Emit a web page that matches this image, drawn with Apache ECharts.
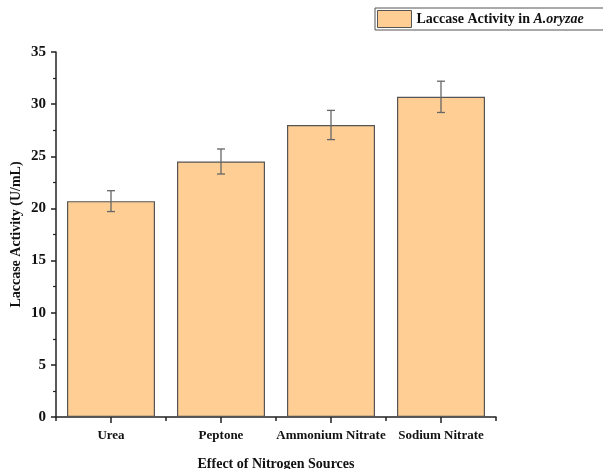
<!DOCTYPE html>
<html>
<head>
<meta charset="utf-8">
<script src="https://cdn.jsdelivr.net/npm/echarts@6/dist/echarts.min.js"></script>
<style>
  html, body { margin: 0; padding: 0; background: #fff; }
  #chart { width: 603px; height: 469px; }
</style>
</head>
<body>
<div id="chart"></div>
<script>
// Laccase activity of A. oryzae under different nitrogen sources
const categories = ['Urea', 'Peptone', 'Ammonium Nitrate', 'Sodium Nitrate'];
const activity = [20.7, 24.5, 28.0, 30.7];
const errors = [1.0, 1.2, 1.4, 1.5];
const yTicks = [0, 5, 10, 15, 20, 25, 30, 35];

const FONT = '"Liberation Serif", "Times New Roman", serif';
const chart = echarts.init(document.getElementById('chart'));

const errorData = activity.map((v, i) => [i, v - errors[i], v + errors[i]]);

chart.setOption({
  animation: false,
  backgroundColor: '#ffffff',
  grid: { left: 56, right: 107, top: 52, bottom: 52, outerBoundsMode: 'none', containLabel: false },
  legend: {
    left: 375,
    top: 8,
    padding: [2, 30, 2, 2],
    borderColor: '#555',
    borderWidth: 1,
    icon: 'rect',
    itemWidth: 34,
    itemHeight: 17,
    itemGap: 5,
    data: [{ name: 'Laccase Activity in A.oryzae', itemStyle: { color: '#FECE94', borderColor: '#555', borderWidth: 1 } }],
    formatter: () => '{a|Laccase Activity in }{b|A.oryzae}',
    textStyle: {
      rich: {
        a: { fontFamily: FONT, fontWeight: 'bold', fontSize: 14, color: '#111' },
        b: { fontFamily: FONT, fontWeight: 'bold', fontStyle: 'italic', fontSize: 14, color: '#111' }
      }
    }
  },
  xAxis: [{
    type: 'category',
    data: categories,
    name: 'Effect of Nitrogen Sources',
    nameLocation: 'middle',
    nameGap: 40,
    nameTextStyle: { fontFamily: FONT, fontWeight: 'bold', fontSize: 14, color: '#111' },
    axisLine: { show: true, lineStyle: { color: '#222', width: 1.5 } },
    axisTick: { show: true, alignWithLabel: true, interval: 0, length: 6, lineStyle: { color: '#222', width: 1.5 } },
    axisLabel: { interval: 0, fontFamily: FONT, fontWeight: 'bold', fontSize: 13, color: '#111', margin: 12 },
    splitLine: { show: false }
  }, {
    type: 'category',
    data: categories,
    position: 'bottom',
    axisLine: { show: false },
    axisTick: { show: true, interval: 0, length: 4, lineStyle: { color: '#222', width: 1.5 } },
    axisLabel: { show: false },
    splitLine: { show: false }
  }],
  yAxis: {
    type: 'value',
    min: yTicks[0],
    max: yTicks[yTicks.length - 1],
    interval: 5,
    name: 'Laccase Activity (U/mL)',
    nameLocation: 'middle',
    nameGap: 33,
    nameMoveOverlap: false,
    nameTextStyle: { fontFamily: FONT, fontWeight: 'bold', fontSize: 14, color: '#111' },
    axisLine: { show: true, lineStyle: { color: '#222', width: 1.5 } },
    axisTick: { show: true, length: 5, lineStyle: { color: '#222', width: 1.5 } },
    minorTick: { show: true, splitNumber: 2, length: 3, lineStyle: { color: '#222', width: 1.2 } },
    axisLabel: { fontFamily: FONT, fontWeight: 'bold', fontSize: 15, color: '#111', margin: 10 },
    splitLine: { show: false }
  },
  series: [{
    name: 'Laccase Activity in A.oryzae',
    type: 'bar',
    data: activity,
    barWidth: '80%',
    itemStyle: { color: '#FECE94', borderColor: '#555', borderWidth: 1.2 }
  }, {
    type: 'custom',
    name: 'error',
    data: errorData,
    z: 10,
    renderItem: (params, api) => {
      const x = api.value(0);
      const lo = api.coord([x, api.value(1)]);
      const hi = api.coord([x, api.value(2)]);
      const w = 4;
      const style = { stroke: '#666', lineWidth: 1.3 };
      return {
        type: 'group',
        children: [
          { type: 'line', shape: { x1: lo[0], y1: lo[1], x2: hi[0], y2: hi[1] }, style },
          { type: 'line', shape: { x1: hi[0] - w, y1: hi[1], x2: hi[0] + w, y2: hi[1] }, style },
          { type: 'line', shape: { x1: lo[0] - w, y1: lo[1], x2: lo[0] + w, y2: lo[1] }, style }
        ]
      };
    }
  }]
});
</script>
</body>
</html>
